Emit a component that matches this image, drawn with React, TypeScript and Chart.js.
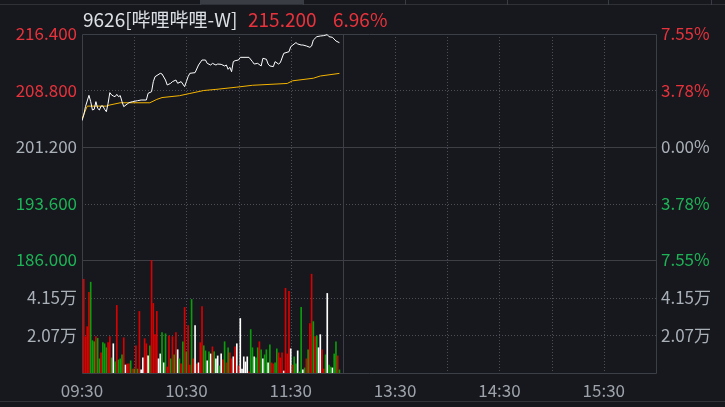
import React, { useEffect, useRef } from 'react';
import { Chart, registerables } from 'chart.js';

Chart.register(...registerables);

// ---------- data ----------
const stockTitle = '9626[哔哩哔哩-W]';
const lastPrice = '215.200';
const lastChange = '6.96%';

const PREV_CLOSE = 201.2;
const priceTicks = [186, 193.6, 201.2, 208.8, 216.4];
const pctTicks = [-7.55, -3.78, 0, 3.78, 7.55];
const volTicks = [20700, 41500];
const VOL_MAX = 62200;
const timeTicks = [0, 60, 120, 180, 240, 300];
const timeLabels = ['09:30', '10:30', '11:30', '13:30', '14:30', '15:30'];
const gridMinutes = [0, 30, 60, 90, 120, 150, 180, 210, 240, 270, 300, 330];
const MIDDAY = 150;
const SESSION_END = 330;

const priceMinutes = [
  0, 1, 2, 4, 5, 6, 7, 8, 9, 10, 11, 12, 13, 14, 15, 16, 17, 18, 19, 20, 21, 22, 23, 24, 26, 27, 29, 32, 34, 37,
  38, 40, 41, 42, 45, 46, 48, 49, 51, 52, 54, 55, 57, 59, 60, 61, 62, 65, 67, 69, 71, 72, 74, 75, 77, 78, 80, 82, 83, 84,
  85, 86, 87, 88, 90, 91, 96, 98, 99, 101, 103, 104, 106, 107, 108, 110, 111, 113, 114, 116, 119, 120, 123, 124, 126, 127, 129, 131, 132, 133,
  135, 137, 139, 141, 142, 144, 146, 148,
];
const prices = [
  204.74, 205.5, 206.63, 208.15, 207.3, 206.18, 206.27, 207.3, 206.4, 206.18, 206.72, 206.72, 206.27, 205.95, 207.07, 208.51, 208.2, 208.06, 207.97, 208.28, 207.97, 208.11, 207.3, 206.63, 206.98, 207.16, 207.3, 207.43, 207.52, 207.52,
  208.42, 208.64, 209.99, 210.66, 211.11, 211.02, 210.21, 209.54, 209.77, 209.99, 210.21, 209.77, 209.99, 209.32, 209.99, 210.66, 211.11, 211.2, 212.23, 212.9, 212.9, 212.45, 212.23, 212.45, 212.23, 212.36, 212.32, 212.1, 212.23, 211.65,
  211.92, 211.33, 212.68, 212.81, 212.9, 213.26, 213.26, 212.68, 212.36, 212.45, 212.1, 213.13, 213.0, 212.36, 212.1, 212.01, 212.68, 212.36, 212.54, 213.8, 214.02, 214.7, 215.24, 215.06, 214.92, 214.92, 214.79, 214.61, 214.79, 215.59,
  216.04, 216.13, 216.18, 216.31, 216.04, 215.95, 215.46, 215.23,
];

const avgMinutes = [0, 3, 14, 16, 22, 39, 43, 46, 56, 62, 70, 77, 89, 98, 118, 121, 133, 137, 148];
const avgPrices = [205.0, 206.7, 206.7, 206.85, 207.15, 207.15, 207.6, 207.85, 208.1, 208.4, 208.8, 208.95, 209.25, 209.5, 209.75, 210.1, 210.45, 210.75, 211.1];

// volume in 万 shares, one bar per minute
const volumes = [
  5.16, 2.0, 2.55, 4.44, 5.0, 1.78, 1.72, 2.0, 1.91, 0.78, 1.11, 1.67, 1.61, 1.39, 1.67, 2.0, 0.83, 1.61, 0.61, 3.72,
  0.72, 0.78, 1.0, 1.94, 0.44, 0.5, 0.5, 0.67, 0.22, 0.22, 1.5, 0.22, 3.39, 0.17, 0.83, 1.89, 1.61, 0.94, 1.5, 6.5,
  3.83, 2.11, 3.39, 0.78, 1.05, 2.22, 0.56, 2.16, 0.33,
  2.05, 0.78, 2.0, 1.0, 2.22, 1.28, 0.78, 0.5, 1.72, 3.61, 1.17, 2.61, 0.44, 4.05, 0.78, 2.61, 0.5, 0.56, 1.67, 3.66,
  1.5, 1.22, 0.67, 1.17, 1.05, 1.44, 1.17, 0.78, 0.94, 0.39, 1.05, 0.72, 1.72, 0.56, 1.39, 1.11, 0.78, 0.89, 1.44, 1.61,
  0.39, 3.0, 0.22, 0.89, 0.61, 0.89, 0.06, 2.39, 1.39, 0.89,
  0.83, 1.39, 1.72, 1.28, 0.78, 1.0, 1.28, 0.56, 1.55, 0.56, 0.5, 0.56, 1.33, 1.11, 0.83, 1.11, 0.11, 4.66, 1.05, 4.5,
  1.33, 0.44, 0.89, 0.5, 1.22, 0.06, 3.61, 0.17, 0.28, 0.78, 1.28, 2.72, 5.44, 2.83, 2.0, 2.05, 1.39, 2.11, 1.28, 0.22,
  1.0, 4.38, 0.44, 0.33, 0.28, 1.05, 1.72, 0.94, 0.17,
];
// r = up, g = down, w = unchanged
const volumeDirs = [
  'r', 'r', 'r', 'r', 'g', 'g', 'g', 'r', 'g', 'g', 'r', 'g', 'g', 'g', 'r', 'r', 'g', 'w', 'g', 'r',
  'g', 'g', 'g', 'r', 'w', 'r', 'r', 'g', 'r', 'g', 'r', 'g', 'r', 'w', 'w', 'r', 'r', 'w', 'g', 'r',
  'r', 'r', 'r', 'w', 'w', 'g', 'w', 'g', 'r',
  'r', 'g', 'r', 'g', 'r', 'w', 'g', 'r', 'g', 'r', 'g', 'r', 'r', 'g', 'r', 'w', 'r', 'w', 'r', 'r',
  'g', 'g', 'w', 'g', 'w', 'r', 'g', 'w', 'w', 'g', 'w', 'r', 'g', 'r', 'g', 'r', 'r', 'w', 'r', 'w',
  'r', 'w', 'w', 'w', 'w', 'w', 'r', 'g', 'g', 'w',
  'g', 'g', 'r', 'g', 'w', 'g', 'g', 'w', 'g', 'r', 'r', 'g', 'g', 'r', 'r', 'r', 'w', 'r', 'r', 'r',
  'w', 'r', 'g', 'g', 'w', 'g', 'g', 'w', 'g', 'r', 'g', 'r', 'r', 'g', 'r', 'g', 'w', 'w', 'r', 'r',
  'g', 'w', 'g', 'g', 'w', 'g', 'g', 'r', 'g',
];

// ---------- style ----------
const BG = '#16181d';
const RED = '#e8323c';
const GREEN = '#1db356';
const GRAY = '#aab0b8';
const AXIS_GRAY = '#9ea3ab';
const LINE = '#3c3f46';
const DOT = '#4b4e55';
const BAR_COLORS: Record<string, string> = { r: '#d80000', g: '#0c9c0c', w: '#ffffff' };
const FONT = '"Noto Sans CJK SC", "Noto Sans", "Liberation Sans", sans-serif';

const gridPlugin = {
  id: 'tradeGrid',
  beforeDatasetsDraw(chart: any) {
    const { ctx, chartArea: a, scales } = chart;
    const xs = scales.x, ys = scales.y, yv = scales.yv;
    const px = (v: number) => Math.round(v) + 0.5;
    ctx.save();
    ctx.lineWidth = 1;
    ctx.strokeStyle = DOT;
    ctx.setLineDash([1, 2]);
    ctx.beginPath();
    [193.6, 208.8].forEach((v) => {
      const yy = px(ys.getPixelForValue(v));
      ctx.moveTo(a.left, yy);
      ctx.lineTo(a.right, yy);
    });
    volTicks.forEach((v) => {
      const yy = px(yv.getPixelForValue(v));
      ctx.moveTo(a.left, yy);
      ctx.lineTo(a.right, yy);
    });
    gridMinutes.forEach((m) => {
      if (m === 0 || m === MIDDAY || m === SESSION_END) return;
      const xx = px(xs.getPixelForValue(m));
      ctx.moveTo(xx, a.top);
      ctx.lineTo(xx, a.bottom);
    });
    ctx.stroke();
    ctx.setLineDash([]);
    ctx.strokeStyle = LINE;
    ctx.beginPath();
    [PREV_CLOSE, 186].forEach((v) => {
      const yy = px(ys.getPixelForValue(v));
      ctx.moveTo(a.left, yy);
      ctx.lineTo(a.right, yy);
    });
    const mx = px(xs.getPixelForValue(MIDDAY));
    ctx.moveTo(mx, a.top);
    ctx.lineTo(mx, a.bottom);
    ctx.rect(px(a.left), px(a.top), Math.round(a.right - a.left), Math.round(a.bottom - a.top));
    ctx.stroke();
    ctx.restore();
  },
};

const colorFor = (v: number) => (Math.abs(v - PREV_CLOSE) < 1e-6 ? GRAY : v > PREV_CLOSE ? RED : GREEN);
const pctColor = (v: number) => (Math.abs(v) < 1e-6 ? GRAY : v > 0 ? RED : GREEN);

export default function App() {
  const ref = useRef<HTMLCanvasElement | null>(null);

  useEffect(() => {
    if (!ref.current) return;
    const font = { family: FONT, size: 17 };
    const chart = new Chart(ref.current, {
      type: 'bar',
      data: {
        datasets: [
          {
            type: 'line',
            data: priceMinutes.map((m, i) => ({ x: m, y: prices[i] })),
            xAxisID: 'x',
            yAxisID: 'y',
            borderColor: '#ffffff',
            borderWidth: 1,
            pointRadius: 0,
            tension: 0,
          } as any,
          {
            type: 'line',
            data: avgMinutes.map((m, i) => ({ x: m, y: avgPrices[i] })),
            xAxisID: 'x',
            yAxisID: 'y',
            borderColor: '#f5b400',
            borderWidth: 1,
            pointRadius: 0,
            tension: 0,
          } as any,
          {
            type: 'bar',
            data: volumes.map((v, i) => ({ x: i + 1, y: v * 10000 })),
            xAxisID: 'x',
            yAxisID: 'yv',
            backgroundColor: volumeDirs.map((d) => BAR_COLORS[d]),
            barThickness: 1,
            borderWidth: 0,
          } as any,
        ],
      },
      options: {
        animation: false,
        responsive: false,
        maintainAspectRatio: false,
        layout: { padding: { top: 34, left: 0, right: 0, bottom: 0 } },
        plugins: { legend: { display: false }, tooltip: { enabled: false } },
        scales: {
          x: {
            type: 'linear',
            position: 'bottom',
            min: 0,
            max: SESSION_END,
            offset: false,
            afterBuildTicks: (s: any) => {
              s.ticks = timeTicks.map((v) => ({ value: v }));
            },
            afterFit: (s: any) => {
              s.height = 34;
            },
            ticks: {
              autoSkip: false,
              maxRotation: 0,
              padding: 7,
              color: AXIS_GRAY,
              font,
              callback: (_v: any, i: number) => timeLabels[i],
            },
            grid: { display: false, drawTicks: false, offset: false },
            border: { display: false },
          },
          y: {
            type: 'linear',
            position: 'left',
            stack: 'L',
            stackWeight: 2,
            weight: 1,
            min: 186,
            max: 216.4,
            afterBuildTicks: (s: any) => {
              s.ticks = priceTicks.map((v) => ({ value: v }));
            },
            afterFit: (s: any) => {
              s.width = 82;
            },
            ticks: {
              autoSkip: false,
              padding: 5,
              font,
              color: (c: any) => colorFor(c.tick.value),
              callback: (v: any) => Number(v).toFixed(3),
            },
            grid: { display: false, drawTicks: false },
            border: { display: false },
          },
          yv: {
            type: 'linear',
            position: 'left',
            stack: 'L',
            stackWeight: 1,
            weight: 0,
            min: 0,
            max: VOL_MAX,
            afterBuildTicks: (s: any) => {
              s.ticks = volTicks.map((v) => ({ value: v }));
            },
            afterFit: (s: any) => {
              s.width = 82;
            },
            ticks: {
              autoSkip: false,
              padding: 5,
              font,
              color: GRAY,
              callback: (v: any) => (Number(v) / 10000).toFixed(2) + '万',
            },
            grid: { display: false, drawTicks: false },
            border: { display: false },
          },
          yp: {
            type: 'linear',
            position: 'right',
            stack: 'R',
            stackWeight: 2,
            min: -7.55,
            max: 7.55,
            afterBuildTicks: (s: any) => {
              s.ticks = pctTicks.map((v) => ({ value: v }));
            },
            afterFit: (s: any) => {
              s.width = 69;
            },
            ticks: {
              autoSkip: false,
              padding: 5,
              font,
              color: (c: any) => pctColor(c.tick.value),
              callback: (v: any) => Math.abs(Number(v)).toFixed(2) + '%',
            },
            grid: { display: false, drawTicks: false },
            border: { display: false },
          },
          yvr: {
            type: 'linear',
            position: 'right',
            stack: 'R',
            stackWeight: 1,
            min: 0,
            max: VOL_MAX,
            afterBuildTicks: (s: any) => {
              s.ticks = volTicks.map((v) => ({ value: v }));
            },
            afterFit: (s: any) => {
              s.width = 69;
            },
            ticks: {
              autoSkip: false,
              padding: 5,
              font,
              color: GRAY,
              callback: (v: any) => (Number(v) / 10000).toFixed(2) + '万',
            },
            grid: { display: false, drawTicks: false },
            border: { display: false },
          },
        },
      } as any,
      plugins: [gridPlugin],
    });
    return () => chart.destroy();
  }, []);

  const tabEdges = [200, 303, 405, 507, 608, 711];
  const titleStyle: React.CSSProperties = {
    position: 'absolute',
    top: 9,
    fontFamily: FONT,
    fontSize: 19,
    lineHeight: '19px',
    whiteSpace: 'nowrap',
  };

  return (
    <div
      style={{
        position: 'fixed',
        left: 0,
        top: 0,
        width: 725,
        height: 407,
        background: BG,
        overflow: 'hidden',
      }}
    >
      <div style={{ position: 'absolute', left: 0, top: 0, width: 725, height: 4, borderBottom: '1px solid #2e3137' }} />
      <div style={{ position: 'absolute', left: 200, top: 0, width: 103, height: 4, background: '#3a3d44' }} />
      {tabEdges.map((x) => (
        <div key={x} style={{ position: 'absolute', left: x, top: 0, width: 1, height: 5, background: '#3a3d44' }} />
      ))}
      <canvas ref={ref} width={725} height={407} style={{ position: 'absolute', left: 0, top: 0, width: 725, height: 407 }} />
      <div style={{ ...titleStyle, left: 83, color: '#dde1e6' }}>{stockTitle}</div>
      <div style={{ ...titleStyle, left: 248, color: RED }}>{lastPrice}</div>
      <div style={{ ...titleStyle, left: 333, color: RED }}>{lastChange}</div>
      <div style={{ position: 'absolute', left: 0, top: 401, width: 725, height: 1, background: '#30333a' }} />
    </div>
  );
}
